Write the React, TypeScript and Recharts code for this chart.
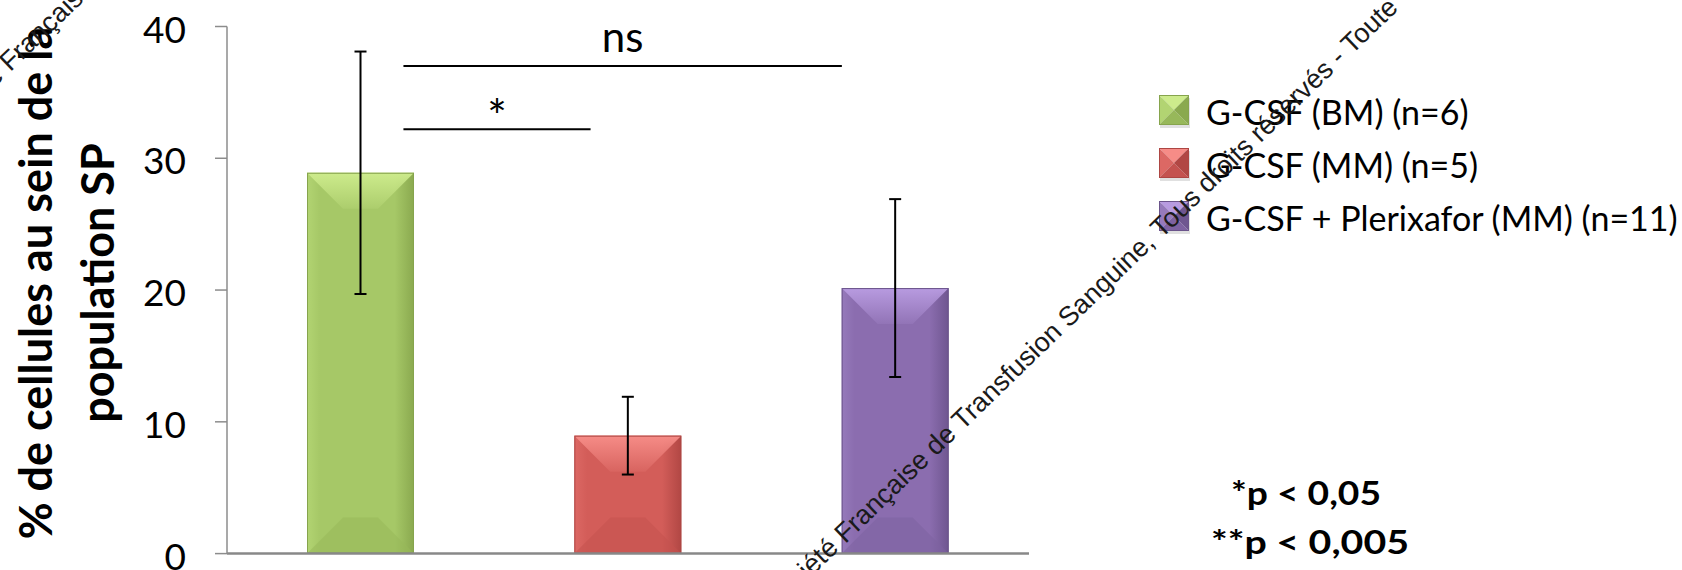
import React from "react";
import {
  Bar,
  BarChart,
  Cell,
  ErrorBar,
  Legend,
  ReferenceLine,
  XAxis,
  YAxis,
} from "recharts";

// groups, means and error bars (% of SP population)
const groups = [
  "G-CSF (BM) (n=6)",
  "G-CSF (MM) (n=5)",
  "G-CSF + Plerixafor (MM) (n=11)",
];
const slots = [0.5, 1.5, 2.5];
const means = [28.9, 8.95, 20.15];
const errors = [9.2, 2.95, 6.75];

const yTicks = [0, 10, 20, 30, 40];
const slotTicks = [0, 1, 2, 3];

// comparison brackets, positions on the 0..3 slot axis
const pairLabels = ["ns", "*"];
const pairFrom = [0.66, 0.66];
const pairTo = [2.3, 1.36];
const pairLevel = [37.0, 32.2];

const pNotes = ["*p < 0,05", "**p < 0,005"];
const yTitle = ["% de cellules au sein de la", "population SP"];
const stamp =
  "Société Française de Transfusion Sanguine, Tous droits réservés - Toute";

const data = groups.map((name, i) => ({
  name,
  slot: slots[i],
  mean: means[i],
  err: errors[i],
}));

const SHADES = [
  { base: "#a6c867", light: "#b2d472", dark: "#8aa94f", top: "#cdeb8c", low: "#97b85a", edge: "#86a44d" },
  { base: "#d35d59", light: "#dc6864", dark: "#b14744", top: "#f68c87", low: "#c4524f", edge: "#ad4643" },
  { base: "#8b6daf", light: "#967abb", dark: "#6f5690", top: "#b89be0", low: "#7e62a1", edge: "#6b548b" },
];

const FONT = "Lato, 'Open Sans', sans-serif";

function BevelBar(props: any) {
  const { x, y, width: w, height: h, index } = props;
  if (!h || h <= 0) return null;
  const c = SHADES[index];
  const d = Math.min(36, w / 2, h / 2);
  const id = `bevel-${index}`;
  return (
    <g>
      <defs>
        <linearGradient id={`${id}-body`} x1="0" y1="0" x2="1" y2="0">
          <stop offset="0" stopColor={c.light} />
          <stop offset="0.12" stopColor={c.base} />
          <stop offset="0.82" stopColor={c.base} />
          <stop offset="1" stopColor={c.dark} />
        </linearGradient>
        <linearGradient id={`${id}-top`} x1="0" y1="0" x2="0" y2="1">
          <stop offset="0" stopColor={c.top} />
          <stop offset="1" stopColor={c.top} stopOpacity={0.15} />
        </linearGradient>
      </defs>
      <rect x={x} y={y} width={w} height={h} fill={`url(#${id}-body)`} />
      <polygon
        points={`${x},${y} ${x + w},${y} ${x + w - d},${y + d} ${x + d},${y + d}`}
        fill={`url(#${id}-top)`}
      />
      <polygon
        points={`${x},${y + h} ${x + w},${y + h} ${x + w - d},${y + h - d} ${x + d},${y + h - d}`}
        fill={c.low}
        opacity={0.55}
      />
      <rect
        x={x + 0.5}
        y={y + 0.5}
        width={w - 1}
        height={h - 1}
        fill="none"
        stroke={c.edge}
        strokeWidth={1}
      />
    </g>
  );
}

function Swatch({ index }: { index: number }) {
  const c = SHADES[index];
  const s = 30;
  const m = s / 2;
  return (
    <svg width={s} height={s + 4} style={{ display: "block", overflow: "visible" }}>
      <rect x={1} y={3} width={s} height={s} fill="#000" opacity={0.12} />
      <polygon points={`0,0 ${s},0 ${m},${m}`} fill={c.top} />
      <polygon points={`0,0 ${m},${m} 0,${s}`} fill={c.light} />
      <polygon points={`${s},0 ${m},${m} ${s},${s}`} fill={c.dark} />
      <polygon points={`0,${s} ${m},${m} ${s},${s}`} fill={c.low} />
      <rect x={0.5} y={0.5} width={s - 1} height={s - 1} fill="none" stroke={c.edge} />
    </svg>
  );
}

function GroupLegend() {
  return (
    <div style={{ fontFamily: FONT, fontSize: 34, color: "#000", lineHeight: 1 }}>
      {groups.map((g, i) => (
        <div key={g} style={{ display: "flex", alignItems: "center", height: 53 }}>
          <Swatch index={i} />
          <span style={{ marginLeft: 17, whiteSpace: "nowrap" }}>{g}</span>
        </div>
      ))}
    </div>
  );
}

function YTitle() {
  const xs = [52, 114];
  return (
    <g>
      {yTitle.map((t, i) => (
        <text
          key={t}
          transform={`translate(${xs[i]}, 283) rotate(-90)`}
          textAnchor="middle"
          fontFamily={FONT}
          fontWeight={700}
          fontSize={45}
          fill="#000"
        >
          {t}
        </text>
      ))}
    </g>
  );
}

export default function App() {
  return (
    <div
      style={{
        position: "absolute",
        left: 0,
        top: 0,
        width: 1682,
        height: 570,
        background: "#fff",
        overflow: "hidden",
      }}
    >
      <BarChart
        width={1682}
        height={570}
        data={data}
        margin={{ top: 26.5, right: 653, bottom: 0, left: 0 }}
      >
        <XAxis
          dataKey="slot"
          type="number"
          domain={[0, 3]}
          ticks={slotTicks}
          interval={0}
          allowDataOverflow
          height={16.4}
          tick={false}
          tickSize={17}
          axisLine={{ stroke: "#888888", strokeWidth: 2.5 }}
          tickLine={{ stroke: "#888888", strokeWidth: 1.5 }}
        />
        <YAxis
          type="number"
          domain={[0, 40]}
          ticks={yTicks}
          interval={0}
          width={227}
          tickSize={12}
          tickMargin={29}
          axisLine={{ stroke: "#8c8c8c", strokeWidth: 1.5 }}
          tickLine={{ stroke: "#8c8c8c", strokeWidth: 1.5 }}
          tick={{ fill: "#000", fontSize: 37, fontFamily: FONT, dy: 3 }}
          label={<YTitle />}
        />
        <Bar
          dataKey="mean"
          barSize={107}
          shape={(p: any) => <BevelBar {...p} />}
          isAnimationActive={false}
        >
          {data.map((d, i) => (
            <Cell key={d.name} fill={SHADES[i].base} />
          ))}
          <ErrorBar
            dataKey="err"
            direction="y"
            width={6}
            stroke="#000"
            strokeWidth={2}
            isAnimationActive={false}
          />
        </Bar>
        {pairLabels.map((lab, i) => (
          <ReferenceLine
            key={lab}
            ifOverflow="visible"
            segment={[
              { x: pairFrom[i], y: pairLevel[i] },
              { x: pairTo[i], y: pairLevel[i] },
            ]}
            stroke="#000"
            strokeWidth={2}
            label={{
              value: lab,
              position: "top",
              offset: i === 0 ? 14 : -4,
              fill: "#000",
              fontSize: i === 0 ? 42 : 46,
              fontFamily: FONT,
            }}
          />
        ))}
        <Legend
          layout="vertical"
          align="center"
          verticalAlign="middle"
          content={() => <GroupLegend />}
          wrapperStyle={{ left: 1159, top: 85, width: 523, height: 160 }}
        />
      </BarChart>
      <svg
        width={1682}
        height={570}
        style={{ position: "absolute", left: 0, top: 0, pointerEvents: "none" }}
      >
        {pNotes.map((t, i) => (
          <text
            key={t}
            x={i === 0 ? 1231 : 1211}
            y={i === 0 ? 505 : 554}
            textLength={i === 0 ? 150 : 198}
            lengthAdjust="spacingAndGlyphs"
            fontFamily={FONT}
            fontWeight={700}
            fontSize={32}
            fill="#000"
          >
            {t}
          </text>
        ))}
        {[
          [775, 612],
          [-60, 140],
        ].map(([sx, sy]) => (
          <text
            key={sx}
            transform={`translate(${sx}, ${sy}) rotate(-44)`}
            fontFamily="'Liberation Sans', Arial, sans-serif"
            fontSize={27}
            fill="#1a1a1a"
          >
            {stamp}
          </text>
        ))}
      </svg>
    </div>
  );
}
